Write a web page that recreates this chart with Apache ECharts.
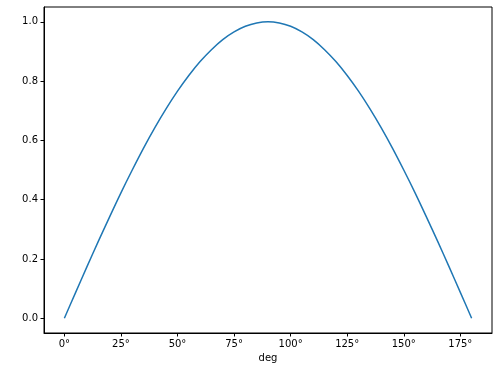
<!DOCTYPE html>
<html><head><meta charset="utf-8">
<script src="https://cdn.jsdelivr.net/npm/echarts@6/dist/echarts.min.js"></script>
<style>html,body{margin:0;padding:0;background:#fff}#c{width:497px;height:371px}</style>
</head><body><div id="c"></div>
<script>
// degrees sampled every 5°
var degrees = [0,5,10,15,20,25,30,35,40,45,50,55,60,65,70,75,80,85,90,95,100,105,110,115,120,125,130,135,140,145,150,155,160,165,170,175,180];
// values
var values = [0.000,0.087,0.174,0.259,0.342,0.423,0.500,0.574,0.643,0.707,0.766,0.819,0.866,0.906,0.940,0.966,0.985,0.996,1.000,0.996,0.985,0.966,0.940,0.906,0.866,0.819,0.766,0.707,0.643,0.574,0.500,0.423,0.342,0.259,0.174,0.087,0.000];
var xTicks = [0,25,50,75,100,125,150,175];
var yTicks = [0,0.2,0.4,0.6,0.8,1.0];

var chart = echarts.init(document.getElementById('c'));
var font = 'DejaVu Sans';
chart.setOption({
  animation: false,
  backgroundColor: '#fff',
  grid: {left: 44, top: 7, right: 5, bottom: 38, show: true, borderColor: '#000', borderWidth: 1, backgroundColor: 'transparent'},
  xAxis: {
    type: 'value', min: -9, max: 189,
    name: 'deg', nameLocation: 'middle', nameGap: 20,
    nameTextStyle: {fontFamily: font, fontSize: 10, color: '#000'},
    axisLine: {show: true, onZero: false, lineStyle: {color: '#000', width: 1}},
    splitLine: {show: false},
    axisTick: {show: true, length: 3.5, inside: false, customValues: xTicks, lineStyle: {color: '#000'}},
    axisLabel: {customValues: xTicks, margin: 6, fontFamily: font, fontSize: 10, color: '#000', formatter: function(v){return v + '°';}}
  },
  yAxis: {
    type: 'value', min: -0.05, max: 1.05,
    axisLine: {show: true, onZero: false, lineStyle: {color: '#000', width: 1}},
    splitLine: {show: false},
    axisTick: {show: true, length: 3.5, inside: false, customValues: yTicks, lineStyle: {color: '#000'}},
    axisLabel: {customValues: yTicks, margin: 6, fontFamily: font, fontSize: 10, color: '#000', formatter: function(v){return v.toFixed(1);}}
  },
  series: [{
    type: 'line',
    data: degrees.map(function(d, i){ return [d, values[i]]; }),
    showSymbol: false, smooth: 0.3,
    lineStyle: {color: '#1f77b4', width: 1.5}
  }]
});
</script></body></html>
